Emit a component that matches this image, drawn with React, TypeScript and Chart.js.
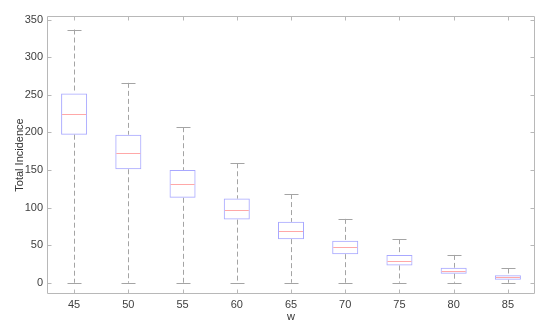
import { useEffect, useRef } from 'react';
import { Chart, registerables } from 'chart.js';

Chart.register(...registerables);

const categories = ['45', '50', '55', '60', '65', '70', '75', '80', '85'];
const upperWhisker = [337, 266, 207, 159, 118, 85, 58, 37, 19];
const q3 = [252, 197, 150, 112, 81, 56, 37, 20, 10];
const medians = [224, 173, 131, 97, 69, 48, 29, 16, 7];
const q1 = [197, 151, 113, 84, 58, 38, 23, 12, 4];
const lowerWhisker = [0, 0, 0, 0, 0, 0, 0, 0, 0];
const yTicks = [0, 50, 100, 150, 200, 250, 300, 350];

const AXIS_COLOR = '#b8b8b8';
const WHISKER_COLOR = '#a4a4a4';
const BOX_COLOR = '#a8a8ff';
const MEDIAN_COLOR = '#ffa8a8';

const boxPlugin = {
  id: 'boxExtras',
  afterDatasetsDraw(chart: any) {
    const { ctx, chartArea, scales } = chart;
    const x = scales.x;
    const y = scales.y;
    const catW = (chartArea.right - chartArea.left) / categories.length;
    const boxHalf = (catW * 0.48) / 2;
    const capHalf = 7;
    ctx.save();
    // whiskers
    ctx.lineWidth = 1;
    ctx.strokeStyle = WHISKER_COLOR;
    ctx.setLineDash([5, 3]);
    categories.forEach((_, i) => {
      const px = Math.round(x.getPixelForValue(i)) + 0.5;
      ctx.beginPath();
      ctx.moveTo(px, y.getPixelForValue(upperWhisker[i]));
      ctx.lineTo(px, y.getPixelForValue(q3[i]));
      ctx.moveTo(px, y.getPixelForValue(q1[i]));
      ctx.lineTo(px, y.getPixelForValue(lowerWhisker[i]));
      ctx.stroke();
    });
    ctx.setLineDash([]);
    // caps
    categories.forEach((_, i) => {
      const px = Math.round(x.getPixelForValue(i)) + 0.5;
      const yt = Math.round(y.getPixelForValue(upperWhisker[i])) + 0.5;
      const yb = Math.round(y.getPixelForValue(lowerWhisker[i])) + 0.5;
      ctx.beginPath();
      ctx.moveTo(px - capHalf, yt);
      ctx.lineTo(px + capHalf, yt);
      ctx.moveTo(px - capHalf, yb);
      ctx.lineTo(px + capHalf, yb);
      ctx.stroke();
    });
    // medians
    ctx.strokeStyle = MEDIAN_COLOR;
    categories.forEach((_, i) => {
      const px = x.getPixelForValue(i);
      const ym = Math.round(y.getPixelForValue(medians[i])) + 0.5;
      ctx.beginPath();
      ctx.moveTo(px - boxHalf + 1, ym);
      ctx.lineTo(px + boxHalf - 1, ym);
      ctx.stroke();
    });
    // axes box
    ctx.strokeStyle = AXIS_COLOR;
    const l = Math.round(chartArea.left) + 0.5;
    const r = Math.round(chartArea.right) - 0.5;
    const t = Math.round(chartArea.top) + 0.5;
    const b = Math.round(chartArea.bottom) - 0.5;
    ctx.beginPath();
    ctx.moveTo(l, t);
    ctx.lineTo(r, t);
    ctx.lineTo(r, b);
    ctx.lineTo(l, b);
    ctx.closePath();
    ctx.stroke();
    // inward ticks
    ctx.beginPath();
    yTicks.forEach((v) => {
      const py = Math.round(y.getPixelForValue(v)) + 0.5;
      ctx.moveTo(l, py);
      ctx.lineTo(l + 4, py);
      ctx.moveTo(r, py);
      ctx.lineTo(r - 4, py);
    });
    categories.forEach((_, i) => {
      const px = Math.round(x.getPixelForValue(i)) + 0.5;
      ctx.moveTo(px, b);
      ctx.lineTo(px, b - 4);
      ctx.moveTo(px, t);
      ctx.lineTo(px, t + 4);
    });
    ctx.stroke();
    ctx.restore();
  },
};

export default function App() {
  const ref = useRef<HTMLCanvasElement | null>(null);
  useEffect(() => {
    if (!ref.current) return;
    const font = { family: '"Liberation Sans", Arial, sans-serif', size: 11 };
    const chart = new Chart(ref.current, {
      type: 'bar',
      data: {
        labels: categories,
        datasets: [
          {
            data: categories.map((_, i) => [q1[i], q3[i]]) as any,
            backgroundColor: 'rgba(0,0,0,0)',
            borderColor: BOX_COLOR,
            borderWidth: 1,
            borderSkipped: false,
            barPercentage: 0.48,
            categoryPercentage: 1,
          },
        ],
      },
      options: {
        animation: false,
        responsive: false,
        maintainAspectRatio: false,
        layout: { padding: { top: 16, right: 15, left: 0, bottom: 0 } },
        plugins: { legend: { display: false }, tooltip: { enabled: false } },
        scales: {
          x: {
            grid: { display: false, drawTicks: false },
            border: { display: false },
            ticks: { color: '#404040', font, padding: 4, maxRotation: 0 },
            title: {
              display: true,
              text: 'w',
              color: '#333333',
              font,
              padding: { top: 0, bottom: 8 },
            },
            afterFit: (s: any) => {
              s.height = 38;
            },
          },
          y: {
            min: -15,
            max: 355,
            grid: { display: false, drawTicks: false },
            border: { display: false },
            ticks: { color: '#404040', font, padding: 4 },
            afterBuildTicks: (s: any) => {
              s.ticks = yTicks.map((v) => ({ value: v }));
            },
            title: {
              display: true,
              text: 'Total Incidence',
              color: '#333333',
              font,
              padding: { top: 13, bottom: 0 },
            },
            afterFit: (s: any) => {
              s.width = 47;
            },
          },
        },
      },
      plugins: [boxPlugin],
    });
    return () => chart.destroy();
  }, []);
  return (
    <div style={{ position: 'fixed', left: 0, top: 0, width: 550, height: 332, background: '#fff' }}>
      <canvas ref={ref} width={550} height={332} style={{ display: 'block' }} />
    </div>
  );
}
